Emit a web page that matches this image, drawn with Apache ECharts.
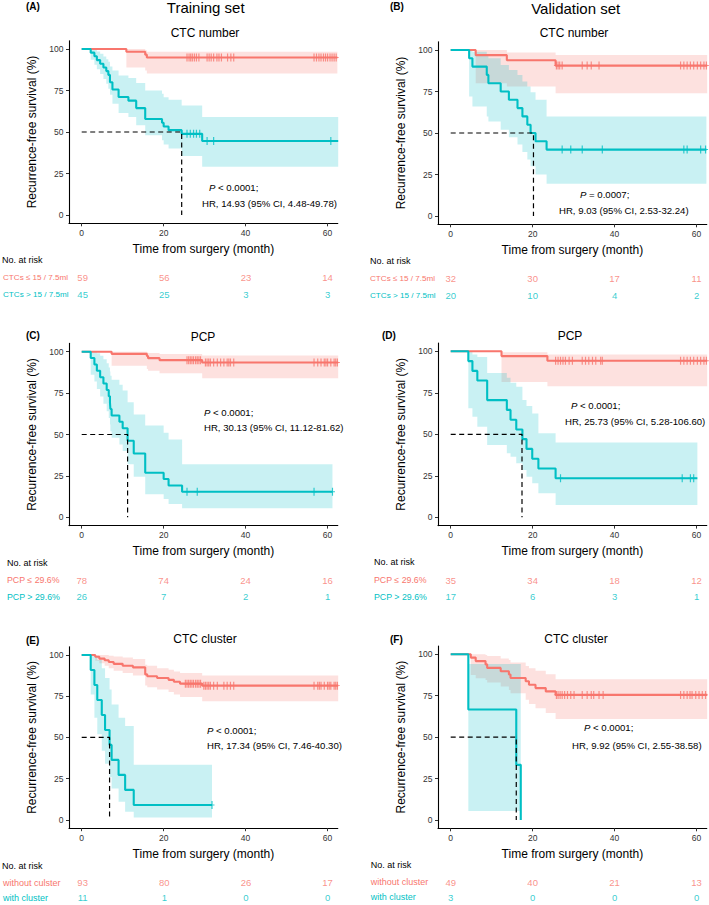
<!DOCTYPE html>
<html><head><meta charset="utf-8">
<script src="https://cdn.jsdelivr.net/npm/echarts@6/dist/echarts.min.js"></script>
<style>html,body{margin:0;padding:0;background:#fff}#c{width:709px;height:905px}</style>
</head><body><div id="c"></div>
<script>
// ---------------- DATA ----------------
const riskTimes = [0, 20, 40, 60];
const xTicks = [0, 20, 40, 60];
const yTicks = [0, 25, 50, 75, 100];

// Panel A (Training, CTC number)
const A_red_t = [0, 10.9, 15.5, 15.9];
const A_red_s = [100, 98.3, 96.6, 94.9];
const A_red_lo = [100, 88.8, 87.0, 85.3];
const A_red_hi = [100, 100, 99.2, 98.4];
const A_red_end = 62.4;
const A_red_cens = [25.7, 26.2, 26.6, 27.0, 27.5, 28.0, 28.6, 30.6, 31.1, 31.6, 32.2, 33.0, 33.5, 34.1, 35.6, 36.4, 37.1, 56.7, 57.3, 57.9, 58.4, 59.0, 59.5, 60.0, 60.6, 61.1, 61.6, 62.1];
const A_cyan_t = [0, 2.2, 3.1, 3.7, 4.5, 5.3, 6.0, 6.5, 6.9, 7.5, 9.0, 11.4, 13.3, 15.5, 19.6, 20.0, 21.2, 24.4, 29.4];
const A_cyan_s = [100, 97.8, 95.6, 93.3, 91.1, 88.9, 86.7, 84.4, 80.0, 75.6, 71.1, 68.9, 64.4, 57.8, 55.6, 53.3, 51.1, 48.9, 44.6];
const A_cyan_lo = [100, 93.5, 90.5, 87.8, 85, 82, 79, 76, 72.5, 67, 61.5, 59, 54, 48, 45, 42.5, 40, 35.5, 29];
const A_cyan_hi = [100, 99.7, 99.5, 98.5, 97.2, 95.5, 93.8, 92.3, 89.5, 87, 84, 82.5, 79.5, 75, 73, 71, 69.5, 66, 59];
const A_cyan_end = 62.6;
const A_cyan_cens = [25.7, 26.5, 27.3, 28.0, 28.8, 30.6, 32.2, 60.8];
const A_median = 24.4;
const A_risk_red = [59, 56, 23, 14];
const A_risk_cyan = [45, 25, 3, 3];
const A_labels = ['CTCs \u2264 15 / 7.5ml', 'CTCs > 15 / 7.5ml'];

// Panel B (Validation, CTC number)
const B_red_t = [0, 6.1, 13.7, 25.6];
const B_red_s = [100, 96.9, 93.8, 90.6];
const B_red_lo = [100, 80, 78, 74];
const B_red_hi = [100, 100, 98.5, 97];
const B_red_end = 62.6;
const B_red_cens = [25.8, 26.2, 26.6, 27.2, 32.1, 33.3, 34.3, 36.2, 56.1, 56.9, 57.7, 58.5, 59.3, 60.2, 61.0, 61.8, 62.4];
const B_cyan_t = [0, 4.5, 5.3, 8.8, 9.2, 12.2, 14.2, 16.3, 17.5, 18.7, 19.5, 20.7, 23.4];
const B_cyan_s = [100, 95, 90, 85, 80, 75, 70, 65, 60, 55, 50, 45, 40];
const B_cyan_lo = [100, 72, 66, 60, 57, 52, 47.5, 43, 38.5, 34, 30, 25, 19.5];
const B_cyan_hi = [100, 100, 99, 97, 95, 91, 88, 85, 81, 78, 74.5, 70, 60];
const B_cyan_end = 62.4;
const B_cyan_cens = [27.2, 29.3, 32.1, 37.0, 56.9, 57.7, 61.0, 62.2];
const B_median = 20.2;
const B_risk_red = [32, 30, 17, 11];
const B_risk_cyan = [20, 10, 4, 2];
const B_labels = ['CTCs \u2264 15 / 7.5ml', 'CTCs > 15 / 7.5ml'];

// Panel C (Training, PCP)
const C_red_t = [0, 7.3, 15.9, 16.2, 19.0, 29.4];
const C_red_s = [100, 98.7, 97.4, 96.1, 94.9, 93.5];
const C_red_lo = [100, 91.5, 89.5, 88.5, 87, 84];
const C_red_hi = [100, 100, 99.6, 99.2, 98.6, 97.7];
const C_red_end = 62.6;
const C_red_cens = [25.7, 26.1, 26.5, 26.9, 27.3, 27.8, 28.2, 28.6, 29.0, 30.2, 30.6, 31.0, 31.4, 32.2, 33.1, 33.9, 34.7, 35.5, 35.9, 36.3, 37.1, 56.7, 57.6, 58.4, 59.2, 59.6, 60.0, 60.8, 61.6, 62.0, 62.4];
const C_cyan_t = [0, 2.2, 3.1, 3.7, 4.5, 5.3, 6.1, 6.6, 6.9, 7.0, 7.3, 9.2, 10.0, 11.2, 12.7, 15.5, 20.0, 21.2, 24.5];
const C_cyan_s = [100, 96.2, 92.3, 88.5, 84.6, 80.8, 76.9, 73.1, 69.2, 65.4, 61.5, 57.7, 53.8, 46.2, 38.5, 26.9, 23.1, 19.2, 15.4];
const C_cyan_lo = [100, 86, 82, 77.5, 73, 68.5, 64, 60, 56, 52, 48, 44, 40, 32, 24.5, 14, 11, 8, 5.4];
const C_cyan_hi = [100, 100, 100, 99, 97.5, 95.5, 93, 90.5, 88, 85.5, 83, 80, 76.5, 69.5, 62, 55.5, 51, 47, 32];
const C_cyan_end = 61.2;
const C_cyan_cens = [25.7, 28.2, 56.7, 61.2];
const C_median = 11.2;
const C_risk_red = [78, 74, 24, 16];
const C_risk_cyan = [26, 7, 2, 1];
const C_labels = ['PCP \u2264 29.6%', 'PCP > 29.6%'];

// Panel D (Validation, PCP)
const D_red_t = [0, 12.4, 23.6];
const D_red_s = [100, 97.1, 94.3];
const D_red_lo = [100, 81.5, 79];
const D_red_hi = [100, 99.5, 98];
const D_red_end = 62.6;
const D_red_cens = [25.6, 26.2, 26.8, 27.4, 28.0, 28.9, 29.7, 32.1, 32.9, 33.7, 34.6, 35.4, 36.6, 37.0, 56.1, 56.9, 57.7, 58.5, 59.3, 60.2, 61.0, 61.8, 62.4];
const D_cyan_t = [0, 4.3, 5.3, 6.5, 8.9, 13.7, 14.6, 16.0, 17.5, 18.5, 19.9, 21.4, 25.6];
const D_cyan_s = [100, 94.1, 88.2, 82.4, 70.6, 64.7, 58.8, 52.9, 47.1, 41.2, 35.3, 29.4, 23.5];
const D_cyan_lo = [100, 65.7, 60.6, 54.6, 43.6, 38.6, 36.5, 32.5, 28.5, 24.5, 20.5, 14.5, 7.4];
const D_cyan_hi = [100, 100, 98, 96.5, 87, 84, 81, 78.7, 70.7, 67, 62.6, 50.6, 45];
const D_cyan_end = 60.2;
const D_cyan_cens = [26.8, 56.5, 58.5, 59.3];
const D_median = 17.4;
const D_risk_red = [35, 34, 18, 12];
const D_risk_cyan = [17, 6, 3, 1];
const D_labels = ['PCP \u2264 29.6%', 'PCP > 29.6%'];

// Panel E (Training, CTC cluster)
const E_red_t = [0, 3.3, 4.3, 5.6, 6.6, 7.8, 10.0, 12.5, 15.5, 16.0, 18.4, 21.2, 22.5, 24.0, 29.4];
const E_red_s = [100, 98.9, 97.8, 96.8, 95.7, 94.6, 93.5, 92.5, 88.2, 87.1, 86.0, 84.9, 83.8, 82.6, 81.4];
const E_red_lo = [100, 96.5, 95, 93.5, 92, 90.5, 89, 87.5, 81.5, 80.5, 79, 77.5, 76, 74.5, 72];
const E_red_hi = [100, 100, 100, 100, 99.5, 99, 98.5, 97.5, 94, 93.5, 92, 91, 90, 89, 87.5];
const E_red_end = 62.6;
const E_red_cens = [25.3, 25.7, 26.1, 26.5, 26.9, 27.3, 27.8, 28.2, 28.6, 29.0, 29.8, 30.2, 30.6, 31.0, 31.4, 32.2, 33.1, 34.7, 35.5, 36.3, 37.1, 56.7, 57.6, 58.0, 58.4, 59.2, 60.0, 60.4, 60.8, 61.6, 62.0, 62.4];
const E_cyan_t = [0, 2.2, 3.1, 3.8, 4.9, 5.7, 6.8, 7.3, 9.0, 10.6, 12.7];
const E_cyan_s = [100, 90.9, 81.8, 72.7, 63.6, 54.5, 45.5, 36.4, 27.3, 18.2, 9.1];
const E_cyan_lo = [100, 76, 62, 52, 42, 34, 26, 19, 11, 5, 1.5];
const E_cyan_hi = [100, 100, 99, 97, 92, 86, 79, 70, 62, 57, 33.5];
const E_cyan_end = 31.8;
const E_cyan_cens = [31.8];
const E_median = 6.8;
const E_risk_red = [93, 80, 26, 17];
const E_risk_cyan = [11, 1, 0, 0];
const E_labels = ['without culster', 'with cluster'];

// Panel F (Validation, CTC cluster)
const F_red_t = [0, 4.9, 6.1, 8.5, 8.9, 12.2, 14.2, 14.6, 18.3, 19.1, 20.7, 23.2, 25.6];
const F_red_s = [100, 98, 95.9, 93.9, 91.8, 89.8, 87.8, 85.7, 83.7, 81.6, 79.6, 77.6, 75.5];
const F_red_lo = [100, 87.5, 85.5, 84.5, 83, 80.5, 78.5, 76.5, 72.5, 70, 67.5, 64.5, 61];
const F_red_hi = [100, 100, 100, 99.5, 99, 97.5, 96.5, 95, 93, 91.5, 90, 88, 85];
const F_red_end = 62.6;
const F_red_cens = [25.8, 26.2, 26.7, 27.2, 27.8, 28.5, 29.3, 30.1, 32.1, 33.3, 34.3, 34.9, 36.2, 37.2, 56.1, 56.9, 57.7, 58.4, 58.9, 59.8, 60.6, 61.4, 62.2];
const F_cyan_t = [0, 4.3, 16.0, 17.1];
const F_cyan_s = [100, 66.7, 33.3, 0];
const F_cyan_lo = [100, 5.5, 5.5, 5.5];
const F_cyan_hi = [100, 94.2, 94.2, 94.2];
const F_cyan_end = 17.1;
const F_cyan_cens = [];
const F_median = 16.0;
const F_risk_red = [49, 40, 21, 13];
const F_risk_cyan = [3, 0, 0, 0];
const F_labels = ['without cluster', 'with cluster'];

// ---------------- STYLE / LAYOUT ----------------
const RED = '#F8766D', CYAN = '#00BFC4';
const RED_BAND = 'rgba(248,118,109,0.22)', CYAN_BAND = 'rgba(0,191,196,0.21)';
const FONT = '"Liberation Sans", Arial, Helvetica, sans-serif';
const PW = 268.8;
const XMIN = -3.1, XMAX = 62.5;
const ANN = 9.6;

const panels = [
  {id:'A', left:69, top:40.7, height:182.6, labelX:2, labelSize:8.1, tag:[26,6], sub:[205,33,'CTC number'],
   pv:[209,187,' < 0.0001;'], hr:[202,203,'HR, 14.93 (95% CI, 4.48-49.78)'],
   red:{t:A_red_t,s:A_red_s,lo:A_red_lo,hi:A_red_hi,end:A_red_end,cens:A_red_cens},
   cyan:{t:A_cyan_t,s:A_cyan_s,lo:A_cyan_lo,hi:A_cyan_hi,end:A_cyan_end,cens:A_cyan_cens},
   median:A_median, riskRed:A_risk_red, riskCyan:A_risk_cyan, labels:A_labels},
  {id:'B', left:438, top:41.7, height:182.6, labelX:370, labelSize:8.1, tag:[390,6], sub:[574,33,'CTC number'],
   pv:[580,194,' = 0.0007;'], hr:[559,210,'HR, 9.03 (95% CI, 2.53-32.24)'],
   red:{t:B_red_t,s:B_red_s,lo:B_red_lo,hi:B_red_hi,end:B_red_end,cens:B_red_cens},
   cyan:{t:B_cyan_t,s:B_cyan_s,lo:B_cyan_lo,hi:B_cyan_hi,end:B_cyan_end,cens:B_cyan_cens},
   median:B_median, riskRed:B_risk_red, riskCyan:B_risk_cyan, labels:B_labels},
  {id:'C', left:69, top:343.4, height:182.2, labelX:7, labelSize:8.8, tag:[26,335], sub:[203,336.7,'PCP'],
   pv:[204,412.7,' < 0.0001;'], hr:[204,427.7,'HR, 30.13 (95% CI, 11.12-81.62)'],
   red:{t:C_red_t,s:C_red_s,lo:C_red_lo,hi:C_red_hi,end:C_red_end,cens:C_red_cens},
   cyan:{t:C_cyan_t,s:C_cyan_s,lo:C_cyan_lo,hi:C_cyan_hi,end:C_cyan_end,cens:C_cyan_cens},
   median:C_median, riskRed:C_risk_red, riskCyan:C_risk_cyan, labels:C_labels},
  {id:'D', left:438, top:343, height:182.6, labelX:374, labelSize:8.8, tag:[382,335], sub:[570,336,'PCP'],
   pv:[571,405.7,' < 0.0001;'], hr:[565,421.7,'HR, 25.73 (95% CI, 5.28-106.60)'],
   red:{t:D_red_t,s:D_red_s,lo:D_red_lo,hi:D_red_hi,end:D_red_end,cens:D_red_cens},
   cyan:{t:D_cyan_t,s:D_cyan_s,lo:D_cyan_lo,hi:D_cyan_hi,end:D_cyan_end,cens:D_cyan_cens},
   median:D_median, riskRed:D_risk_red, riskCyan:D_risk_cyan, labels:D_labels},
  {id:'E', left:69, top:646.7, height:181.5, labelX:2, labelSize:9, tag:[26,640], sub:[205,639,'CTC cluster'],
   pv:[207,730,' < 0.0001;'], hr:[207,745.7,'HR, 17.34 (95% CI, 7.46-40.30)'],
   red:{t:E_red_t,s:E_red_s,lo:E_red_lo,hi:E_red_hi,end:E_red_end,cens:E_red_cens},
   cyan:{t:E_cyan_t,s:E_cyan_s,lo:E_cyan_lo,hi:E_cyan_hi,end:E_cyan_end,cens:E_cyan_cens},
   median:E_median, riskRed:E_risk_red, riskCyan:E_risk_cyan, labels:E_labels},
  {id:'F', left:438, top:646, height:182.3, labelX:370.7, labelSize:9, tag:[390,639], sub:[576,639,'CTC cluster'],
   pv:[584,727.7,' < 0.0001;'], hr:[572,745,'HR, 9.92 (95% CI, 2.55-38.58)'],
   red:{t:F_red_t,s:F_red_s,lo:F_red_lo,hi:F_red_hi,end:F_red_end,cens:F_red_cens},
   cyan:{t:F_cyan_t,s:F_cyan_s,lo:F_cyan_lo,hi:F_cyan_hi,end:F_cyan_end,cens:F_cyan_cens},
   median:F_median, riskRed:F_risk_red, riskCyan:F_risk_cyan, labels:F_labels}
];

const PLUS = 'path://M2.1,0h1.3v10h-1.3zM0,4.4h5.5v1.2h-5.5z';

function survAt(g, x) {
  let v = g.s[0];
  for (let i = 0; i < g.t.length; i++) if (g.t[i] <= x) v = g.s[i];
  return v;
}

function bandSeries(ai, g, color) {
  const pts = g.t.map((t, i) => [t, g.lo[i], g.hi[i]]);
  return {
    type: 'custom', xAxisIndex: ai, yAxisIndex: ai, silent: true, z: 1,
    data: pts, encode: {x: 0, y: [1, 2]},
    renderItem(params, api) {
      if (params.dataIndex !== 0) return null;
      const up = [], dn = [];
      for (let i = 0; i < pts.length; i++) {
        const t0 = pts[i][0], t1 = i + 1 < pts.length ? pts[i + 1][0] : g.end;
        up.push(api.coord([t0, pts[i][2]]), api.coord([t1, pts[i][2]]));
        dn.push(api.coord([t0, pts[i][1]]), api.coord([t1, pts[i][1]]));
      }
      return {type: 'polygon', shape: {points: up.concat(dn.reverse())}, style: {fill: color, stroke: null}};
    }
  };
}

function lineSeries(ai, g, color) {
  const data = g.t.map((t, i) => [t, g.s[i]]);
  data.push([g.end, g.s[g.s.length - 1]]);
  return {type: 'line', xAxisIndex: ai, yAxisIndex: ai, step: 'end', symbol: 'none', silent: true, z: 3,
    data, lineStyle: {color, width: 2.1}, itemStyle: {color}};
}

function censSeries(ai, g, color) {
  return {type: 'scatter', xAxisIndex: ai, yAxisIndex: ai, silent: true, z: 4,
    symbol: PLUS, symbolSize: [5, 8], data: g.cens.map(c => [c, survAt(g, c)]),
    itemStyle: {color}};
}

const grid = [], xAxis = [], yAxis = [], series = [], graphic = [];

function txt(x, y, text, size, opt) {
  opt = opt || {};
  graphic.push({type: 'text', x, y, silent: true, style: {
    text, fill: opt.color || '#000',
    font: (opt.italic ? 'italic ' : '') + (opt.bold ? 'bold ' : '') + size + 'px ' + FONT,
    textAlign: opt.align || 'left', align: opt.align || 'left',
    textVerticalAlign: 'middle', verticalAlign: 'middle'
  }});
}

txt(205.7, 7.8, 'Training set', 15, {align: 'center'});
txt(575.7, 8.3, 'Validation set', 15, {align: 'center'});

panels.forEach((p, k) => {
  const mi = 2 * k, ri = 2 * k + 1;
  const y100 = p.top + p.height * 5 / 110;
  grid.push({left: p.left, top: p.top, width: PW, height: p.height});
  grid.push({left: p.left, top: y100 + 220.4, width: PW, height: 2 * 16.6});

  xAxis.push({type: 'value', gridIndex: mi, min: XMIN, max: XMAX,
    axisLine: {onZero: false, lineStyle: {color: '#000', width: 1.1}},
    axisTick: {customValues: xTicks, length: 3, lineStyle: {color: '#333', width: 1}},
    axisLabel: {customValues: xTicks, fontSize: 8.5, color: '#333', fontFamily: FONT, margin: 5},
    splitLine: {show: false},
    name: 'Time from surgery (month)', nameLocation: 'middle', nameGap: 19.5,
    nameTextStyle: {fontSize: 12, color: '#000', fontFamily: FONT}});
  yAxis.push({type: 'value', gridIndex: mi, min: -5, max: 105,
    axisLine: {onZero: false, lineStyle: {color: '#000', width: 1.1}},
    axisTick: {customValues: yTicks, length: 3, lineStyle: {color: '#333', width: 1}},
    axisLabel: {customValues: yTicks, fontSize: 8.5, color: '#333', fontFamily: FONT, margin: 5.5},
    splitLine: {show: false},
    name: 'Recurrence-free survival (%)', nameLocation: 'middle', nameGap: 31,
    nameTextStyle: {fontSize: 12, color: '#000', fontFamily: FONT}});

  xAxis.push({type: 'value', gridIndex: ri, min: XMIN, max: XMAX, show: false});
  yAxis.push({type: 'category', gridIndex: ri, data: [p.labels[1], p.labels[0]],
    axisLine: {show: false}, axisTick: {show: false}, splitLine: {show: false},
    axisLabel: {align: 'left', margin: p.left - p.labelX, fontSize: p.labelSize, fontFamily: FONT,
      color: (v) => (v === p.labels[0] ? RED : CYAN)}});

  series.push(bandSeries(mi, p.red, RED_BAND));
  series.push(bandSeries(mi, p.cyan, CYAN_BAND));
  series.push(lineSeries(mi, p.red, RED));
  series.push(lineSeries(mi, p.cyan, CYAN));
  series.push(censSeries(mi, p.red, RED));
  series.push(censSeries(mi, p.cyan, CYAN));
  series.push({type: 'line', xAxisIndex: mi, yAxisIndex: mi, symbol: 'none', silent: true, z: 5,
    data: [[0, 50], [p.median, 50], [p.median, 0]],
    lineStyle: {color: '#000', width: 1.2, type: [5, 3.5]}});

  [[p.riskRed, 1, RED], [p.riskCyan, 0, CYAN]].forEach(([vals, row, color]) => {
    series.push({type: 'scatter', xAxisIndex: ri, yAxisIndex: ri, silent: true,
      symbolSize: 1, itemStyle: {color: 'rgba(0,0,0,0)'},
      data: riskTimes.map((t, i) => [t, row, vals[i]]),
      label: {show: true, position: 'inside', formatter: q => String(q.value[2]),
        color, fontSize: 9.5, fontFamily: FONT}});
  });

  txt(p.tag[0], p.tag[1], '(' + p.id + ')', 10, {bold: true});
  txt(p.sub[0], p.sub[1], p.sub[2], 12, {align: 'center'});
  txt(p.pv[0], p.pv[1], 'P', ANN, {italic: true});
  txt(p.pv[0] + 6.4, p.pv[1], p.pv[2], ANN);
  txt(p.hr[0], p.hr[1], p.hr[2], ANN);
  txt(p.labelX, y100 + 211, 'No. at risk', 9);
});

const chart = echarts.init(document.getElementById('c'), null, {renderer: 'svg', width: 709, height: 905});
chart.setOption({animation: false, backgroundColor: '#fff', grid, xAxis, yAxis, series, graphic});
</script></body></html>
